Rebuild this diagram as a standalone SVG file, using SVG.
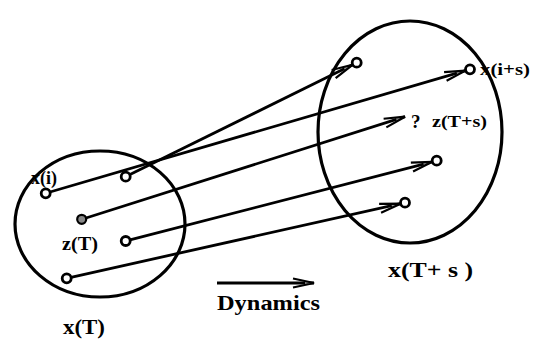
<svg xmlns="http://www.w3.org/2000/svg" width="533" height="340" viewBox="0 0 533 340">
<style>
.set{fill:none;stroke:#000;stroke-width:3.2}
.node{fill:#fff;stroke:#000;stroke-width:2.8}
.filled{fill:#888;stroke:#000;stroke-width:2.2}
.conn{fill:none;stroke:#000;stroke-width:2.8;marker-end:url(#arr)}
text{font-family:"Liberation Serif","Times New Roman",serif;font-weight:bold;fill:#000}
</style>
<defs>
<marker id="arr" markerUnits="userSpaceOnUse" markerWidth="26" markerHeight="14" viewBox="-23 -7 26 14" refX="0" refY="0" orient="auto">
<path d="M-9,-1.8 L0,0 L-9,1.8 Z" fill="#999" stroke="none"/>
<path d="M-21,-4.5 L0,0 L-21,4.5" fill="none" stroke="#000" stroke-width="2.2"/>
</marker>
</defs>
<rect width="533" height="340" fill="#fff"/>
<g id="set-xT"><ellipse class="set" cx="100" cy="224" rx="85" ry="73"/></g>
<g id="set-xTs"><ellipse class="set" cx="410" cy="132" rx="92" ry="111"/></g>
<g id="connectors">
<line class="conn" x1="50" y1="192" x2="465.5" y2="70.6"/>
<line class="conn" x1="130" y1="174.6" x2="352.5" y2="64.8"/>
<line class="conn" x1="86" y1="218" x2="405" y2="116.7"/>
<line class="conn" x1="130" y1="239.9" x2="432.3" y2="161.8"/>
<line class="conn" x1="71" y1="277.3" x2="400.6" y2="203.7"/>
<line class="conn" x1="217" y1="283" x2="314" y2="283"/>
</g>
<g id="node-xi"><circle class="node" cx="45.7" cy="193.3" r="4.5"/><text x="31" y="184" font-size="18" textLength="26" lengthAdjust="spacingAndGlyphs">x(i)</text></g>
<g id="node-l2"><circle class="node" cx="125.7" cy="176.7" r="4.5"/></g>
<g id="node-zT"><circle class="filled" cx="81.7" cy="219.3" r="4.5"/><text x="62" y="250" font-size="19" textLength="36" lengthAdjust="spacingAndGlyphs">z(T)</text></g>
<g id="node-l4"><circle class="node" cx="125.7" cy="241" r="4.5"/></g>
<g id="node-l5"><circle class="node" cx="66.7" cy="278.3" r="4.5"/></g>
<g id="node-r1"><circle class="node" cx="356.7" cy="62.7" r="4.5"/></g>
<g id="node-xis"><circle class="node" cx="470" cy="69.3" r="4.5"/><text x="480" y="75" font-size="16" textLength="50" lengthAdjust="spacingAndGlyphs">x(i+s)</text></g>
<g id="node-zTs"><text x="411" y="128" font-size="19">?</text><text x="432" y="127" font-size="17" textLength="55" lengthAdjust="spacingAndGlyphs">z(T+s)</text></g>
<g id="node-r4"><circle class="node" cx="436.7" cy="160.7" r="4.5"/></g>
<g id="node-r5"><circle class="node" cx="405" cy="202.7" r="4.5"/></g>
<g id="labels">
<text x="63" y="334" font-size="20" textLength="42" lengthAdjust="spacingAndGlyphs">x(T)</text>
<text x="388" y="277" font-size="20" textLength="85" lengthAdjust="spacingAndGlyphs">x(T+ s )</text>
<text x="217" y="310" font-size="21" textLength="103" lengthAdjust="spacingAndGlyphs">Dynamics</text>
</g>
</svg>
